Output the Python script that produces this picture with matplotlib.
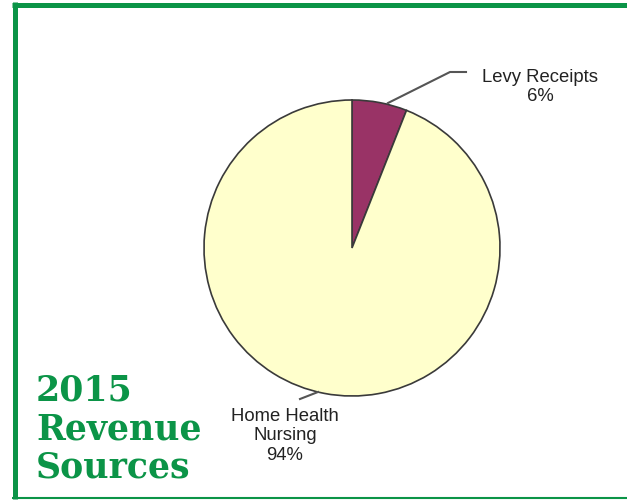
import matplotlib
matplotlib.use("Agg")
import matplotlib.pyplot as plt

# Data
sources = ["Levy Receipts", "Home Health\nNursing"]
shares = [6, 94]
colors = ["#993366", "#ffffcc"]

W, H = 627, 503
green = "#0b9447"

fig = plt.figure(figsize=(W / 100, H / 100), dpi=100)
ax = fig.add_axes([0, 0, 1, 1])

# pie, in pixel coordinates (y measured from bottom)
cx, cy, r = 352, H - 248, 148
ax.pie(shares, colors=colors, startangle=90, counterclock=False,
       center=(cx, cy), radius=r,
       wedgeprops=dict(edgecolor="#3a3a3a", linewidth=1.2))

ax.set_xlim(0, W)
ax.set_ylim(0, H)
ax.set_aspect("auto")
ax.axis("off")

# green frame
ax.plot([12, W], [H - 4.5, H - 4.5], color=green, lw=3.6, solid_capstyle="butt")
ax.plot([14.5, 14.5], [H - 2, H - 499], color=green, lw=3.6, solid_capstyle="butt")
ax.plot([12, W], [H - 498, H - 498], color=green, lw=1.5, solid_capstyle="butt")

# leader lines
ax.plot([388, 450, 466], [H - 103, H - 72, H - 72], color="#555555", lw=1.5)
ax.plot([318, 300], [H - 392, H - 399], color="#555555", lw=1.5)

# labels
lab = [f"{s}\n{v}%" for s, v in zip(sources, shares)]
ax.text(540, H - 87, lab[0], ha="center", va="center", fontsize=13.3,
        family="Liberation Sans", color="#222222", linespacing=1.2)
ax.text(285, H - 436, lab[1], ha="center", va="center", fontsize=13.3,
        family="Liberation Sans", color="#222222", linespacing=1.2)

# title
ax.text(36, H - 429, "2015\nRevenue\nSources", ha="left", va="center",
        fontsize=25, fontweight="bold", family="DejaVu Serif", color=green,
        linespacing=1.15)

plt.savefig("out.png", dpi=100)
